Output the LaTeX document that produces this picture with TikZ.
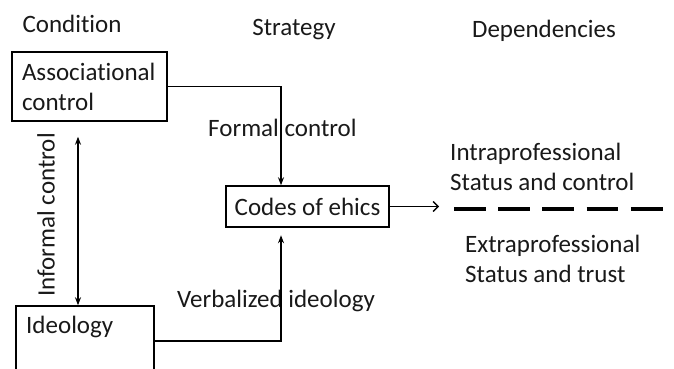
\documentclass[tikz,border=0pt]{standalone}
\usepackage{fontspec}
\setmainfont{Carlito}[Ligatures={NoCommon}]
\usetikzlibrary{arrows.meta}
\begin{document}
\begin{tikzpicture}[x=1pt,y=-1pt,
  every node/.style={font=\fontsize{25}{30}\selectfont, text=black!90},
  boxnode/.style={draw, line width=1.5pt},
  conn/.style={line width=1.4pt},
  tipv/.style={-{Stealth[length=8pt,width=6pt]}},
  txt/.style={anchor=west, align=left, inner sep=0pt}]
\useasboundingbox (0,0) rectangle (674,369);
\clip (0,0) rectangle (674,369);
% headings
\node (hcond) at (72,24) {Condition};
\node (hstrat) at (294,30) {Strategy};
\node (hdep) at (544,31) {Dependencies};
% boxes
\node[boxnode, minimum width=155pt, minimum height=69pt, text width=135pt, align=left, inner xsep=10pt, inner ysep=0pt] (assoc) at (89.5,86.5) {Associational\\control};
\node[boxnode, minimum width=163pt, minimum height=41pt, inner sep=0pt] (codes) at (307.5,206.5) {Codes of ehics};
\node[boxnode, minimum width=138pt, minimum height=70pt, inner sep=0pt] (ideo) at (85,341) {};
\node[txt] (ideotxt) at (26,327) {Ideology};
% labels
\node[txt] (formal) at (208,128) {Formal control};
\node[txt] (verbal) at (177,301) {Verbalized ideology};
\node[txt, rotate=90, anchor=center] (informal) at (46,215) {Informal control};
\node[txt] (intra) at (450,167) {Intraprofessional\\Status and control};
\node[txt] (extra) at (465,259) {Extraprofessional\\Status and trust};
% connectors
\draw[conn, tipv] (assoc.east) -| ([xshift=-26.5pt]codes.north);
\draw[conn, tipv] (ideo.east) -| ([xshift=-26.5pt,yshift=-7.5pt]codes.south);
\draw[conn, {Stealth[length=8pt,width=6pt]}-{Stealth[length=8pt,width=6pt]}] ([xshift=-11.5pt,yshift=-15pt]assoc.south) -- ([xshift=-7pt]ideo.north);
\coordinate (arrend) at (439,206.5);
\draw[conn, -{Straight Barb[length=5pt,width=10pt]}] (codes.east) -- (arrend);
\coordinate (dstart) at (454,209);
\coordinate (dend) at (663,209);
\draw[line width=3.5pt, dash pattern=on 31.7pt off 12.5pt] (dstart) -- (dend);
\end{tikzpicture}
\end{document}
